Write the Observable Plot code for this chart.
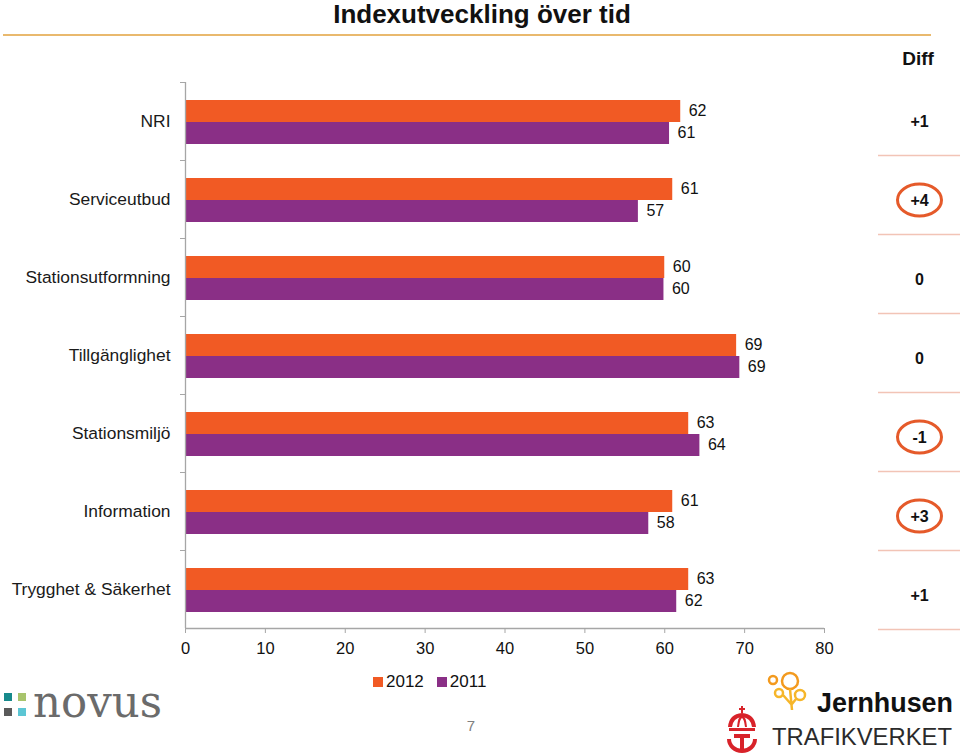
<!DOCTYPE html>
<html>
<head>
<meta charset="utf-8">
<script src="https://cdn.jsdelivr.net/npm/d3@7"></script>
<script src="https://cdn.jsdelivr.net/npm/@observablehq/plot@0.6"></script>
<style>
  body { margin: 0; background: #fff; }
  #wrap { position: relative; width: 960px; height: 756px; overflow: hidden;
          font-family: "Liberation Sans", Arial, sans-serif; color: #111; }
  .abs { position: absolute; }
  #title { left: 0; width: 964px; top: 0px; text-align: center; font-size: 26px; font-weight: bold; line-height: 28px; }
  #rule { left: 3px; top: 34px; width: 928px; height: 2px; background: #e9b96e; }
  #diffTitle { left: 878px; width: 80px; top: 48px; text-align: center; font-size: 19px; font-weight: bold; line-height: 22px; }
  #legend { left: 373px; top: 672px; font-size: 17px; line-height: 20px; display: flex; align-items: center; }
  #legend .sw { display: inline-block; width: 10px; height: 10px; margin-right: 3px; }
  #legend .item { display: flex; align-items: center; margin-right: 13px; }
  #page { left: 464px; top: 717px; width: 14px; text-align: center; font-size: 15px; color: #808080; }
</style>
</head>
<body>
<div id="wrap"></div>
<script>
// ---- data ----
const categories = ["NRI", "Serviceutbud", "Stationsutformning", "Tillgänglighet", "Stationsmiljö", "Information", "Trygghet & Säkerhet"];
const values2012 = [62.0, 61.0, 60.0, 69.0, 63.0, 61.0, 63.0];
const values2011 = [60.6, 56.7, 59.9, 69.4, 64.4, 58.0, 61.5];
const labels2012 = ["62", "61", "60", "69", "63", "61", "63"];
const labels2011 = ["61", "57", "60", "69", "64", "58", "62"];
const diffLabels = ["+1", "+4", "0", "0", "-1", "+3", "+1"];
const diffCircled = [false, true, false, false, true, true, false];
const seriesNames = ["2012", "2011"];
const xTicks = [0, 10, 20, 30, 40, 50, 60, 70, 80];
const titleText = "Indexutveckling över tid";
const diffTitleText = "Diff";
const pageNumber = "7";

// ---- styles ----
const ORANGE = "#f15a24";
const PURPLE = "#8a2f86";
const AXIS = "#a6a6a6";
const FONT = "Liberation Sans, Arial, sans-serif";

const rows2012 = categories.map((c, i) => ({cat: c, value: values2012[i], label: labels2012[i]}));
const rows2011 = categories.map((c, i) => ({cat: c, value: values2011[i], label: labels2011[i]}));
const diffRows = categories.map((c, i) => ({cat: c, label: diffLabels[i], circled: diffCircled[i]}));

const wrap = document.getElementById("wrap");

// title, rule
const t = document.createElement("div"); t.id = "title"; t.className = "abs"; t.textContent = titleText; wrap.appendChild(t);
const r = document.createElement("div"); r.id = "rule"; r.className = "abs"; wrap.appendChild(r);
const dt = document.createElement("div"); dt.id = "diffTitle"; dt.className = "abs"; dt.textContent = diffTitleText; wrap.appendChild(dt);

// main chart
const main = Plot.plot({
  width: 960, height: 660,
  marginLeft: 185, marginRight: 136, marginTop: 82, marginBottom: 32,
  style: {fontFamily: FONT, fontSize: "16px", color: "#111", background: "transparent", overflow: "visible"},
  x: {domain: [0, 80], label: null},
  y: {type: "band", domain: categories, padding: 0, label: null},
  marks: [
    Plot.barX(rows2012, {x: "value", y: "cat", fill: ORANGE, insetTop: 18, insetBottom: 38}),
    Plot.barX(rows2011, {x: "value", y: "cat", fill: PURPLE, insetTop: 40, insetBottom: 16}),
    Plot.text(rows2012, {x: "value", y: "cat", text: "label", textAnchor: "start", dx: 8, dy: -11, fill: "#111", fontSize: 16}),
    Plot.text(rows2011, {x: "value", y: "cat", text: "label", textAnchor: "start", dx: 8, dy: 11, fill: "#111", fontSize: 16}),
    Plot.ruleX([0], {stroke: AXIS, strokeWidth: 1.3}),
    Plot.ruleY(categories.slice(-1), {y: d => d, dy: 39, stroke: AXIS, strokeWidth: 1.3}),
    Plot.axisX({ticks: xTicks, tickSize: 5, tickPadding: 9, stroke: AXIS, fill: "#111", label: null, fontSize: 16.5}),
    Plot.axisY({tickSize: 0, tickPadding: 15, label: null, fill: "#1a1a1a", fontSize: 17.4}),
    Plot.axisY({tickSize: 5, tickFormat: () => "", dy: -39, stroke: AXIS, label: null})
  ]
});
main.classList.add("abs");
main.style.left = "0px"; main.style.top = "0px";
wrap.appendChild(main);

// diff column
const ellipse = {
  draw(ctx) {
    const rx = 22, ry = 16, k = 0.5523;
    ctx.moveTo(rx, 0);
    ctx.bezierCurveTo(rx, ry * k, rx * k, ry, 0, ry);
    ctx.bezierCurveTo(-rx * k, ry, -rx, ry * k, -rx, 0);
    ctx.bezierCurveTo(-rx, -ry * k, -rx * k, -ry, 0, -ry);
    ctx.bezierCurveTo(rx * k, -ry, rx, -ry * k, rx, 0);
    ctx.closePath();
  }
};
const diffPlot = Plot.plot({
  width: 82, height: 553, marginTop: 0, marginBottom: 0, marginLeft: 0, marginRight: 0,
  style: {fontFamily: FONT, fontSize: "16px", color: "#111", background: "transparent", overflow: "visible"},
  y: {type: "band", domain: categories, padding: 0, axis: null},
  marks: [
    Plot.ruleY(categories, {y: d => d, dy: 39.5, stroke: "#f2c4b6", strokeWidth: 1.5}),
    Plot.dot(diffRows.filter(d => d.circled), {y: "cat", frameAnchor: "middle", dy: 5, symbol: ellipse, r: 10, stroke: "#e55a2a", strokeWidth: 3, fill: "none"}),
    Plot.text(diffRows, {y: "cat", text: "label", frameAnchor: "middle", dy: 5.5, fontWeight: "bold", fontSize: 16, fill: "#111"})
  ]
});
diffPlot.classList.add("abs");
diffPlot.style.left = "878px"; diffPlot.style.top = "76px";
wrap.appendChild(diffPlot);

// legend
const lg = document.createElement("div"); lg.id = "legend"; lg.className = "abs";
[ORANGE, PURPLE].forEach((c, i) => {
  const it = document.createElement("span"); it.className = "item";
  const sw = document.createElement("span"); sw.className = "sw"; sw.style.background = c;
  it.appendChild(sw); it.appendChild(document.createTextNode(seriesNames[i]));
  lg.appendChild(it);
});
wrap.appendChild(lg);

const pg = document.createElement("div"); pg.id = "page"; pg.className = "abs"; pg.textContent = pageNumber; wrap.appendChild(pg);

// logos (decorative)
const ns = "http://www.w3.org/2000/svg";
const logos = document.createElementNS(ns, "svg");
logos.setAttribute("width", 960); logos.setAttribute("height", 90);
logos.setAttribute("viewBox", "0 666 960 90");
logos.setAttribute("class", "abs");
logos.style.left = "0px"; logos.style.top = "666px"; logos.style.pointerEvents = "none";
logos.innerHTML = `
  <rect x="4" y="693" width="8" height="8" fill="#178a8c"/>
  <rect x="18" y="693" width="8" height="8" fill="#a8c46c"/>
  <rect x="4" y="708" width="8" height="8" fill="#5a5a5a"/>
  <rect x="18" y="708" width="8" height="8" fill="#5cc6d4"/>
  <text x="33" y="717" font-family="DejaVu Serif, serif" font-size="44" fill="#6b6b6b" textLength="129" lengthAdjust="spacingAndGlyphs">novus</text>
  <g fill="none" stroke="#f39a1e" stroke-width="2.5">
    <circle cx="790" cy="681" r="8"/>
    <circle cx="773" cy="680" r="4"/>
    <circle cx="779" cy="693" r="4" stroke="#f6b62a"/>
    <circle cx="800" cy="695" r="5" stroke="#f6b62a"/>
    <path d="M790 689 L792 710 M783 695 L791 704 M796 699 L792 704" stroke="#f6b62a"/>
  </g>
  <text x="817" y="712" font-family="Liberation Sans, Arial, sans-serif" font-weight="bold" font-size="28" fill="#111" textLength="136" lengthAdjust="spacingAndGlyphs">Jernhusen</text>
  <text x="772" y="745" font-family="Liberation Sans, Arial, sans-serif" font-size="24" fill="#2b2b2b" textLength="180" lengthAdjust="spacingAndGlyphs">TRAFIKVERKET</text>
  <g fill="#d8232a" stroke="none">
    <rect x="741" y="706" width="2" height="7"/>
    <rect x="739" y="708" width="6" height="2"/>
    <path d="M728 727 Q729 714 742 713 Q755 714 756 727 L752 727 Q751 718 742 717 Q733 718 732 727 Z"/>
    <path d="M737 727 Q738 716 742 715 Q746 716 747 727 L745 727 Q744 719 742 718 Q740 719 739 727 Z"/>
    <rect x="729" y="728" width="26" height="3"/>
    <rect x="734" y="734" width="16" height="4"/>
    <rect x="740" y="734" width="4" height="15"/>
    <path d="M727 739 A15 14 0 0 0 757 739 L753 739 A11 10 0 0 1 731 739 Z"/>
  </g>
`;
wrap.appendChild(logos);
</script>
</body>
</html>
